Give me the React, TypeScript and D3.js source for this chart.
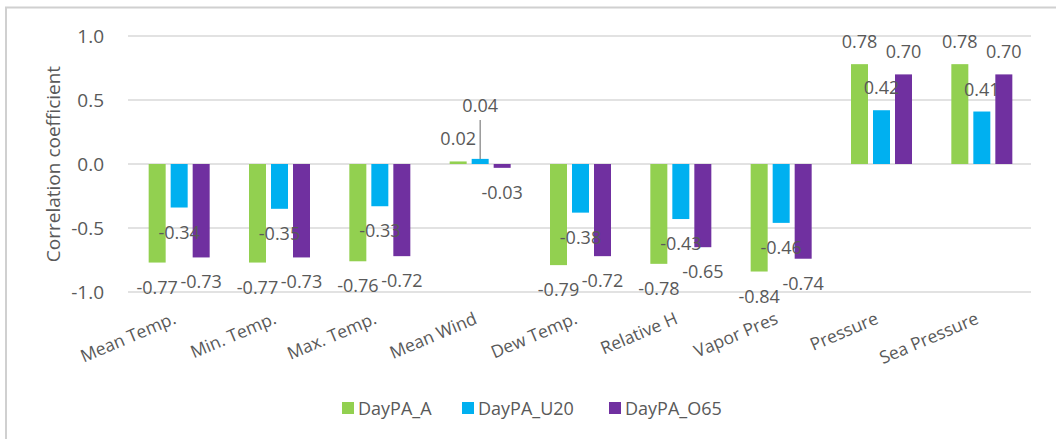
import React from "react";
import * as d3 from "d3";

const categories = ["Mean Temp.", "Min. Temp.", "Max. Temp.", "Mean Wind", "Dew Temp.", "Relative H", "Vapor Pres", "Pressure", "Sea Pressure"];
const seriesNames = ["DayPA_A", "DayPA_U20", "DayPA_O65"];
const dayPA_A = [-0.77, -0.77, -0.76, 0.02, -0.79, -0.78, -0.84, 0.78, 0.78];
const dayPA_U20 = [-0.34, -0.35, -0.33, 0.04, -0.38, -0.43, -0.46, 0.42, 0.41];
const dayPA_O65 = [-0.73, -0.73, -0.72, -0.03, -0.72, -0.65, -0.74, 0.7, 0.7];
const yTicks = [-1.0, -0.5, 0.0, 0.5, 1.0];
const colors = ["#92D050", "#00B0F0", "#7030A0"];

const W = 1056, H = 439;
const FONT = "'Open Sans', sans-serif";
const TXT = "#595959";
const locale = d3.formatLocale({ decimal: ".", thousands: ",", grouping: [3], currency: ["", ""], minus: "-" });

export default function App() {
  const values = [dayPA_A, dayPA_U20, dayPA_O65];
  const x0 = d3.scaleBand<string>().domain(categories).range([128, 1031]).padding(0);
  const x1 = d3.scaleBand<string>().domain(seriesNames).range([-33, 33]).paddingInner(5 / 22).paddingOuter(5 / 44);
  const y = d3.scaleLinear().domain([-1, 1]).range([292, 36]);
  const fmt = locale.format(".2f");
  const fmtTick = locale.format(".1f");

  const bars: any[] = [];
  const labels: any[] = [];
  let leader: any = null;
  values.forEach((vals, si) => {
    vals.forEach((v, ci) => {
      const cat = categories[ci];
      const bx = x0(cat)! + x0.bandwidth() / 2 + 1 + x1(seriesNames[si])!;
      const bw = x1.bandwidth();
      const top = Math.min(y(v), y(0));
      const h = Math.abs(y(v) - y(0));
      bars.push(<rect key={`b${si}-${ci}`} x={bx} y={top} width={bw} height={h} fill={colors[si]} />);
      const cx = bx + bw / 2;
      let ly = v >= 0 ? y(v) - 23 : y(v) + 24;
      // the label that was dragged up with a leader line in the original
      if (cat === "Mean Wind" && si === 1) {
        ly = y(v) - 54;
        leader = <line x1={cx} x2={cx} y1={ly + 15} y2={y(v)} stroke="#7f7f7f" strokeWidth={1.2} />;
      }
      labels.push(
        <text key={`l${si}-${ci}`} x={cx} y={ly} textAnchor="middle" dominantBaseline="central" fontSize={18} fill={TXT} fontFamily={FONT}>
          {fmt(v)}
        </text>
      );
    });
  });

  const legendX = [342, 462, 609];

  return (
    <svg width={W} height={H} style={{ position: "absolute", left: 0, top: 0, background: "#fff" }}>
      <rect x={0} y={0} width={W} height={H} fill="#fff" />
      <line x1={5} x2={W} y1={7.5} y2={7.5} stroke="#d0d0d0" strokeWidth={2} />
      <line x1={6} x2={6} y1={7} y2={H} stroke="#d0d0d0" strokeWidth={2} />
      {yTicks.map((t) => (
        <g key={t}>
          <line x1={128} x2={1031} y1={y(t)} y2={y(t)} stroke="#d9d9d9" strokeWidth={1.3} />
          <text x={104} y={y(t)} textAnchor="end" dominantBaseline="central" fontSize={19} fill={TXT} fontFamily={FONT}>
            {fmtTick(t)}
          </text>
        </g>
      ))}
      <text transform={`translate(53,${y(0)}) rotate(-90)`} textAnchor="middle" dominantBaseline="central" fontSize={19} fill={TXT} fontFamily={FONT}>
        Correlation coefficient
      </text>
      {bars}
      {leader}
      {labels}
      {categories.map((c) => (
        <text key={c} transform={`translate(${x0(c)! + x0.bandwidth() / 2 - 1},323) rotate(-23)`} textAnchor="end" fontSize={17.5} fill={TXT} fontFamily={FONT}>
          {c}
        </text>
      ))}
      {seriesNames.map((s, i) => (
        <g key={s}>
          <rect x={legendX[i]} y={402} width={12} height={12} fill={colors[i]} />
          <text x={legendX[i] + 16} y={408} dominantBaseline="central" fontSize={18} fill={TXT} fontFamily={FONT}>
            {s}
          </text>
        </g>
      ))}
    </svg>
  );
}
